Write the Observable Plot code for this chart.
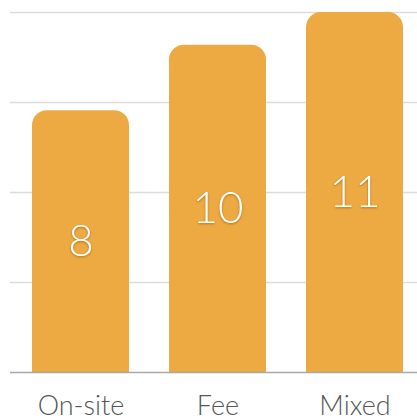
<!DOCTYPE html>
<html>
<head>
<meta charset="utf-8">
<script src="https://cdn.jsdelivr.net/npm/d3@7"></script>
<script src="https://cdn.jsdelivr.net/npm/@observablehq/plot@0.6"></script>
<style>
  html, body { margin: 0; padding: 0; background: #fff; }
  #chart svg { display: block; }
  .bar-label text { filter: drop-shadow(0.5px 1px 0.8px rgba(120,70,0,0.55)); }
</style>
</head>
<body>
<div id="chart"></div>
<script>
const categories = ["On-site", "Fee", "Mixed"];
const values = [8, 10, 11];
const gridTicks = [0, 2.75, 5.5, 8.25, 11];

const data = categories.map((c, i) => ({category: c, value: values[i]}));
const FONT = "Lato, 'Open Sans', sans-serif";
const BAR = "#EDAA42";

const chart = Plot.plot({
  width: 417,
  height: 420,
  marginLeft: 10,
  marginRight: 0,
  marginTop: 12,
  marginBottom: 48,
  style: {fontFamily: FONT, background: "#fff"},
  x: {domain: categories, range: [31, 404.5], paddingInner: 0.29, paddingOuter: 0, label: null},
  y: {domain: [0, 11], label: null},
  marks: [
    Plot.ruleY(gridTicks.filter(t => t > 0), {stroke: "#dcdcdc", strokeWidth: 1.3}),
    Plot.barY(data, {x: "category", y: "value", fill: BAR, rx: 15}),
    Plot.barY(data, {x: "category", y1: 0, y2: d => d.value / 2, fill: BAR}),
    Plot.ruleY([0], {stroke: "#a8a8a8", strokeWidth: 1.5}),
    Plot.text(data, {
      x: "category", y: d => d.value / 2, text: d => String(d.value),
      fill: "#fff", fontSize: 44, fontWeight: 300, fontFamily: FONT,
      className: "bar-label"
    }),
    Plot.axisX({tickSize: 0, tickPadding: 23, fontSize: 27, fill: "#555", fontWeight: 300, fontFamily: FONT}),
    Plot.axisY({ticks: [], tickSize: 0, label: null})
  ]
});
document.getElementById("chart").appendChild(chart);
</script>
</body>
</html>
